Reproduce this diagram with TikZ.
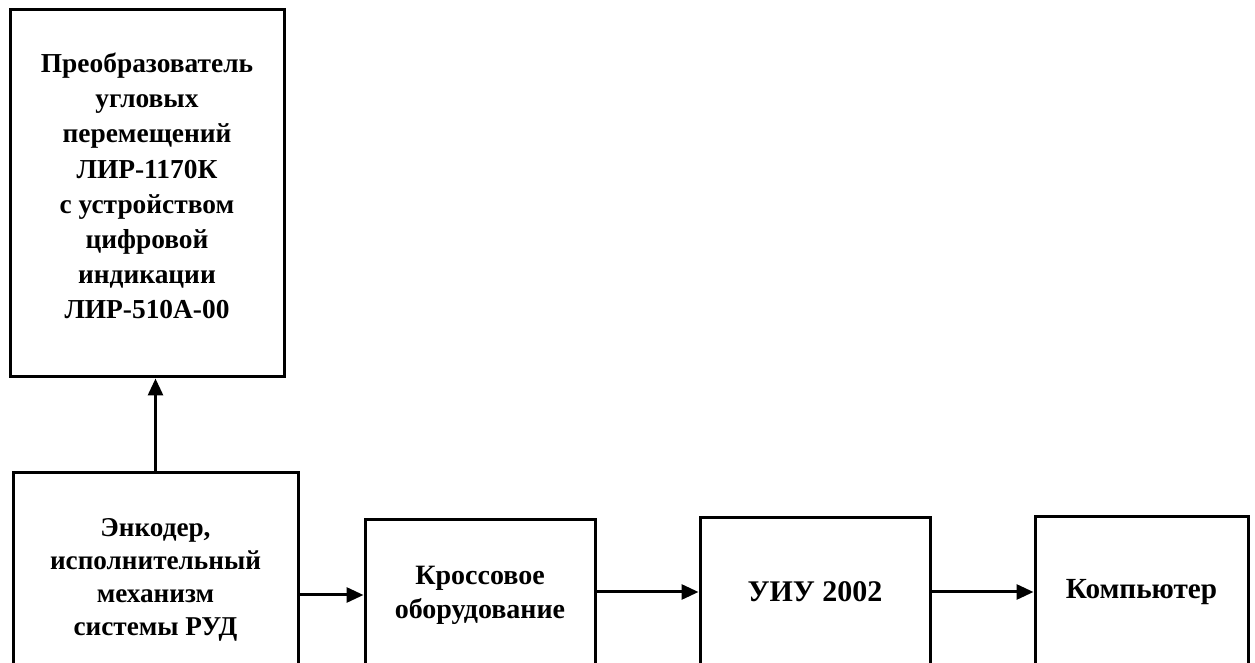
\documentclass[tikz,border=0pt]{standalone}
\usepackage{fontspec}
\setmainfont{Liberation Serif}
\usetikzlibrary{arrows.meta}
\tikzset{
  blk/.style={draw=black, line width=1.5pt, align=center, inner sep=0pt,
    font=\fontsize{14}{17}\selectfont\bfseries},
  arr/.style={line width=1.5pt, -{Triangle[length=8.5pt,width=7.5pt]}}
}
\begin{document}
\begin{tikzpicture}[x=0.5pt,y=-0.5pt]
\useasboundingbox (0,0) rectangle (1255,663);
\node[blk, font=\fontsize{13.7}{17.6}\selectfont\bfseries, minimum width=137pt, minimum height=183.5pt] (conv) at (147,193.5)
  {Преобразователь\\угловых\\перемещений\\ЛИР-1170К\\с устройством\\цифровой\\индикации\\ЛИР-510А-00\\[-10pt]};
\node[blk, font=\fontsize{13.6}{16.5}\selectfont\bfseries, minimum width=142.5pt, minimum height=107pt] (enc) at (155.5,580)
  {Энкодер,\\исполнительный\\механизм\\системы РУД};
\node[blk, minimum width=115pt, minimum height=75pt] (kross) at (480,595)
  {Кроссовое\\оборудование};
\node[blk, font=\fontsize{15}{18}\selectfont\bfseries, minimum width=115pt, minimum height=74pt] (uiu) at (815,592)
  {УИУ 2002};
\node[blk, font=\fontsize{14.6}{17}\selectfont\bfseries, minimum width=106.5pt, minimum height=75pt] (comp) at (1141.5,592)
  {Компьютер};
\draw[arr] (enc.north) -- (enc.north |- conv.south);
\draw[arr] (enc.east |- kross.west) -- (kross.west);
\draw[arr] (kross.east |- uiu.west) -- (uiu.west);
\draw[arr] (uiu.east) -- (comp.west |- uiu.east);
\end{tikzpicture}
\end{document}
